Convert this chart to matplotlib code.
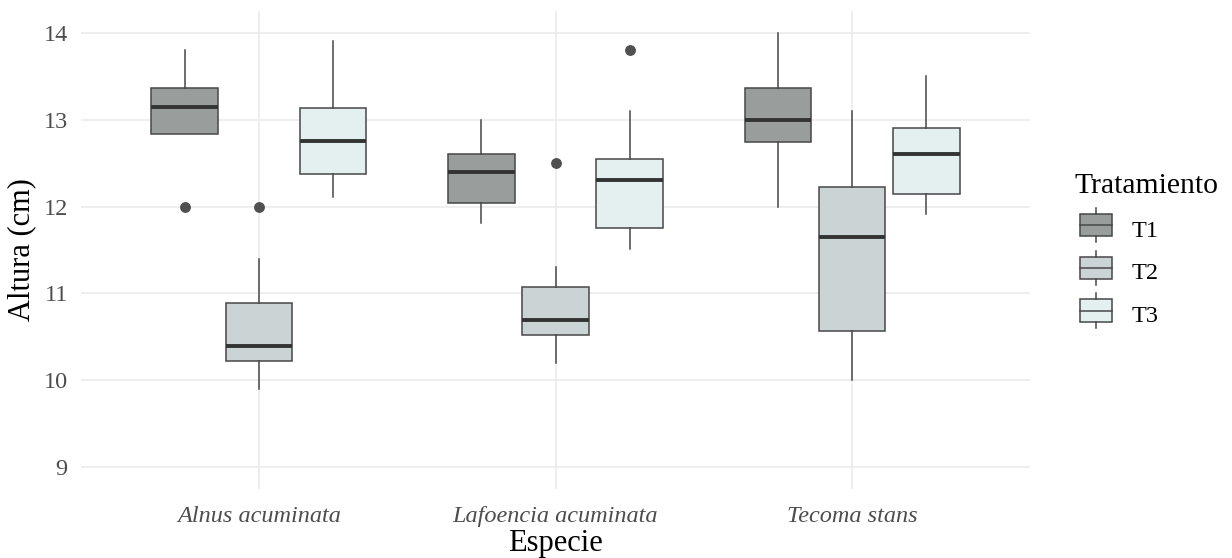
import matplotlib.pyplot as plt
from matplotlib.patches import Rectangle
from matplotlib.lines import Line2D
from matplotlib.legend_handler import HandlerBase

plt.rcParams['font.family'] = ['Liberation Serif', 'DejaVu Serif']

# Data
especies = ["Alnus acuminata", "Lafoencia acuminata", "Tecoma stans"]
tratamientos = ["T1", "T2", "T3"]

# per tratamiento, per especie: (whislo, q1, med, q3, whishi)
t1_stats = [(12.83, 12.83, 13.15, 13.36, 13.80),
            (11.81, 12.04, 12.40, 12.60, 13.00),
            (12.00, 12.74, 13.00, 13.36, 14.00)]
t2_stats = [(9.90, 10.22, 10.40, 10.89, 11.40),
            (10.20, 10.52, 10.70, 11.07, 11.30),
            (10.00, 10.57, 11.65, 12.22, 13.10)]
t3_stats = [(12.11, 12.37, 12.75, 13.13, 13.90),
            (11.51, 11.75, 12.31, 12.55, 13.10),
            (11.91, 12.14, 12.60, 12.90, 13.50)]
t1_out = [[12.0], [], []]
t2_out = [[12.0], [12.5], []]
t3_out = [[], [13.8], []]

colores = ["#999e9d", "#cbd4d5", "#e4f0f0"]
edge = "#474747"

fig = plt.figure(figsize=(12.32, 5.58), dpi=100)
ax = fig.add_axes([81 / 1232, (558 - 489) / 558, 949 / 1232, 478 / 558])

series = [(t1_stats, t1_out), (t2_stats, t2_out), (t3_stats, t3_out)]
offsets = [-0.25, 0.0, 0.25]
for k, (stats, outs) in enumerate(series):
    bxp = []
    for (lo, q1, med, q3, hi), fl in zip(stats, outs):
        bxp.append(dict(whislo=lo, q1=q1, med=med, q3=q3, whishi=hi, fliers=fl))
    pos = [i + 1 + offsets[k] for i in range(len(especies))]
    ax.bxp(bxp, positions=pos, widths=0.225, patch_artist=True, showcaps=False,
           boxprops=dict(facecolor=colores[k], edgecolor=edge, linewidth=1.1),
           whiskerprops=dict(color=edge, linewidth=1.1),
           medianprops=dict(color="#333333", linewidth=2.8, solid_capstyle="butt"),
           flierprops=dict(marker="o", markerfacecolor="#505050", markeredgecolor="#505050",
                           markersize=6.8),
           zorder=3)

ax.set_xlim(0.4, 3.6)
ax.set_ylim(8.75, 14.25)
ax.set_xticks([1, 2, 3])
ax.set_xticklabels(especies, fontstyle="italic")
ax.set_yticks([9, 10, 11, 12, 13, 14])
ax.tick_params(length=0, labelsize=17.5, labelcolor="#4d4d4d")
ax.tick_params(axis="x", pad=12.5)
ax.tick_params(axis="y", pad=9.5)
ax.grid(True, color="#ebebeb", linewidth=1.2, zorder=0)
ax.set_axisbelow(True)
for s in ax.spines.values():
    s.set_visible(False)

ax.set_xlabel("Especie", fontsize=22, labelpad=1.5)
ax.set_ylabel("Altura (cm)", fontsize=22, labelpad=5)


class BoxHandler(HandlerBase):
    def create_artists(self, legend, orig, xd, yd, w, h, fontsize, trans):
        x0, x1 = xd + 0.12 * w, xd + 0.88 * w
        cx = xd + w / 2
        b0, b1 = yd - 0.05 * h, yd + 1.05 * h
        rect = Rectangle((x0, b0), x1 - x0, b1 - b0, facecolor=orig.get_facecolor(),
                         edgecolor=edge, linewidth=1.1, transform=trans)
        med = Line2D([x0, x1], [yd + h / 2] * 2, color=edge, linewidth=1.1, transform=trans)
        top = Line2D([cx, cx], [b1, b1 + 0.3 * h], color=edge, linewidth=1.1, transform=trans)
        bot = Line2D([cx, cx], [b0, b0 - 0.3 * h], color=edge, linewidth=1.1, transform=trans)
        return [rect, med, top, bot]


handles = [Rectangle((0, 0), 1, 1, facecolor=c) for c in colores]
leg = fig.legend(handles, tratamientos, title="Tratamiento", loc="center left",
                 bbox_to_anchor=(1053 / 1232, 0.552), frameon=False, fontsize=17.5,
                 title_fontsize=21.3, handler_map={Rectangle: BoxHandler()},
                 handlelength=1.73, handleheight=0.9, handletextpad=0.62,
                 labelspacing=0.8, alignment="left")

fig.savefig("out.png", dpi=100)
